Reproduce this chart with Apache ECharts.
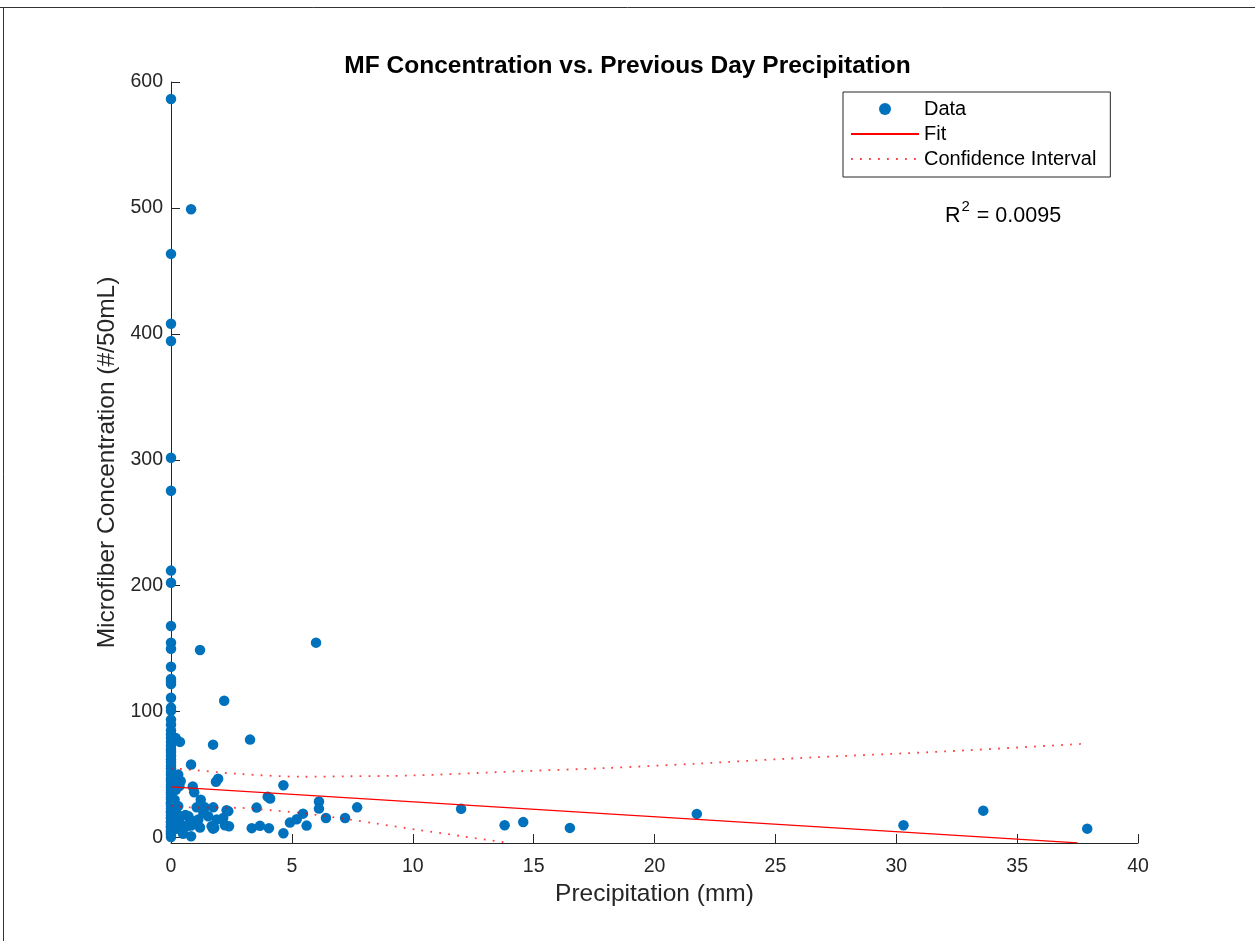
<!DOCTYPE html>
<html>
<head>
<meta charset="utf-8">
<script src="https://cdn.jsdelivr.net/npm/echarts@6/dist/echarts.min.js"></script>
<style>
html,body{margin:0;padding:0;background:#fff;}
#chart{width:1255px;height:941px;}
</style>
</head>
<body>
<div id="chart"></div>
<script>
// ---- data ----
const precip = [
  0,0,0,0,0,0,0,0,0,0,0,0,0,0,0,0,0,0,0,0,0,0,0,0,0,0,0,0,0,0,0,0,0,0,0,0,0,0,0,0,0,0,0,0,0,0,0,0,0,0,0,0,0,0,0,0,0,0,0,0,0,0,
  0.37,0.2,0.3,0.4,0.35,0.25,0.2,0.15,0.3,0.4,0.3,0.45,0.25,0.5,0.2,
  0.83,1.2,6.0,2.2,3.27,1.74,0.83,1.95,1.86,4.65,0.9,0.96,1.23,4.0,4.1,3.54,6.12,6.12,7.7,6.41,7.2,5.46,5.2,4.92,5.61,4.65,3.34,3.68,4.05,
  2.3,2.23,1.74,0.83,1.2,0.83,0.72,0.65,1.06,1.4,1.75,1.34,1.13,1.54,1.89,2.16,2.37,2.4,1.68,1.79,0.6,0.8,1.0,
  12.0,13.8,14.57,16.5,21.75,30.3,33.6,37.9
];
const conc = [
  0.5,2,3.5,5,6,8,9,10,12,13,15,16,18,20,21,23,25,27,28,30,32,34,36,38,40,42,45,47,50,52,55,57,60,62,65,68,70,73,76,79,82,85,89.7,93.7,100.8,103.2,111,122,124,126,135.7,150,154.8,168,202.4,212,275.4,301.6,394.4,408,463.5,586.5,
  76,79,50,45,41,47,38,30,25,17,13,10,7,3,20,
  499,149,154.8,108.7,77.8,73.8,58,46.8,44.4,41.5,40.5,36,30,32.5,31,23.8,28.6,23,24,15.5,15.5,19,14.5,11.9,9.5,3.5,7.5,9.3,7.5,
  21.7,9.8,7.1,1,8,9.5,17,9,24,24,24,19.6,14.3,17,14.3,15.6,21,9,9,7.7,18,14,12,
  22.8,9.8,12.3,7.7,18.8,9.8,21.4,7.1
];
const fitX = [0, 37.5];
const fitY = [40.2, -4.2];
const upperX = [0, 0.72, 2.85, 5.5, 7.4, 10, 14.3, 18, 21.75, 26.57, 32.1, 37.67];
const upperY = [55, 54, 50.5, 48.3, 48.7, 49.3, 52.6, 55.2, 58.7, 63.7, 68.5, 74.4];
const lowerX = [0, 0.72, 2.85, 3.47, 5.5, 7.4, 8.5, 10.16, 12, 13.75, 14.0];
const lowerY = [25.4, 24, 23.6, 22.8, 19.3, 14.3, 11.1, 6.3, 1.2, -3.7, -4.3];
const yTicks = [0, 100, 200, 300, 400, 500, 600];
const titleText = 'MF Concentration vs. Previous Day Precipitation';
const xName = 'Precipitation (mm)';
const yName = 'Microfiber Concentration (#/50mL)';
const r2Text = '0.0095';

const zip = (a, b) => a.map((v, i) => [v, b[i]]);
const FONT = '"Liberation Sans", Arial, Helvetica, sans-serif';
const AX = '#262626';

const chart = echarts.init(document.getElementById('chart'), null, {renderer: 'canvas'});
chart.setOption({
  animation: false,
  backgroundColor: '#fff',
  textStyle: {fontFamily: FONT},
  title: {
    text: titleText, left: 'center', top: 49,
    textStyle: {fontFamily: FONT, fontSize: 24.5, fontWeight: 'bold', color: '#000'}
  },
  grid: {left: 171, right: 117, top: 82, bottom: 98, outerBoundsMode: 'none'},
  xAxis: {
    type: 'value', min: 0, max: 40, interval: 5,
    name: xName, nameLocation: 'middle', nameGap: 31,
    nameTextStyle: {fontFamily: FONT, fontSize: 24.5, color: AX},
    axisLine: {onZero: false, lineStyle: {color: AX, width: 1}},
    axisTick: {inside: true, length: 9, lineStyle: {color: AX}},
    axisLabel: {fontFamily: FONT, fontSize: 19.5, color: AX, margin: 14},
    splitLine: {show: false}
  },
  yAxis: {
    type: 'value', min: -4.3, max: 600,
    name: yName, nameLocation: 'middle', nameGap: 49, nameRotate: 90,
    nameTextStyle: {fontFamily: FONT, fontSize: 24.5, color: AX},
    axisLine: {onZero: false, lineStyle: {color: AX, width: 1}},
    axisTick: {inside: true, length: 9, lineStyle: {color: AX}, customValues: yTicks},
    axisLabel: {fontFamily: FONT, fontSize: 19.5, color: AX, margin: 8, customValues: yTicks},
    splitLine: {show: false}
  },
  legend: {
    orient: 'vertical', left: 843, top: 92,
    itemWidth: 68, itemHeight: 12, itemGap: 5,
    padding: [7, 14, 8, 7],
    borderColor: AX, borderWidth: 1, borderRadius: 0,
    backgroundColor: '#fff',
    textStyle: {fontFamily: FONT, fontSize: 20, color: '#000'},
    data: [
      {name: 'Data', icon: 'circle'},
      {name: 'Fit', itemStyle: {opacity: 0}},
      {name: 'Confidence Interval', itemStyle: {opacity: 0}}
    ]
  },
  graphic: [
    {type: 'line', shape: {x1: 0, y1: 7.5, x2: 1255, y2: 7.5}, style: {stroke: '#333', lineWidth: 1}},
    {type: 'line', shape: {x1: 3.5, y1: 7.5, x2: 3.5, y2: 941}, style: {stroke: '#333', lineWidth: 1}},
    {
      type: 'text', left: 945, top: 199,
      style: {
        text: '{r|R}{s|2}{r| = ' + r2Text + '}',
        rich: {
          r: {fontFamily: FONT, fontSize: 21.5, fill: '#000', verticalAlign: 'bottom', padding: [6, 0, 0, 0]},
          s: {fontFamily: FONT, fontSize: 15, fill: '#000', verticalAlign: 'top', padding: [0, 1, 12, 1]}
        }
      }
    }
  ],
  series: [
    {
      name: 'Data', type: 'scatter', data: zip(precip, conc),
      symbol: 'circle', symbolSize: 10.5,
      itemStyle: {color: '#0072BD', opacity: 1}, z: 2
    },
    {
      name: 'Fit', type: 'line', data: zip(fitX, fitY),
      symbol: 'none', clip: true,
      lineStyle: {color: '#ff0000', width: 1.2}, itemStyle: {color: '#ff0000'}, z: 3
    },
    {
      name: 'Confidence Interval', type: 'line', data: zip(upperX, upperY),
      symbol: 'none', smooth: 0.3, clip: true,
      lineStyle: {color: '#ff0000', width: 1.8, type: [1.8, 7.2], opacity: 0.75}, itemStyle: {color: '#ff0000'}, z: 3
    },
    {
      name: 'Confidence Interval', type: 'line', data: zip(lowerX, lowerY),
      symbol: 'none', smooth: 0.3, clip: true,
      lineStyle: {color: '#ff0000', width: 1.8, type: [1.8, 7.2], opacity: 0.75}, itemStyle: {color: '#ff0000'}, z: 3
    }
  ]
});
</script>
</body>
</html>
